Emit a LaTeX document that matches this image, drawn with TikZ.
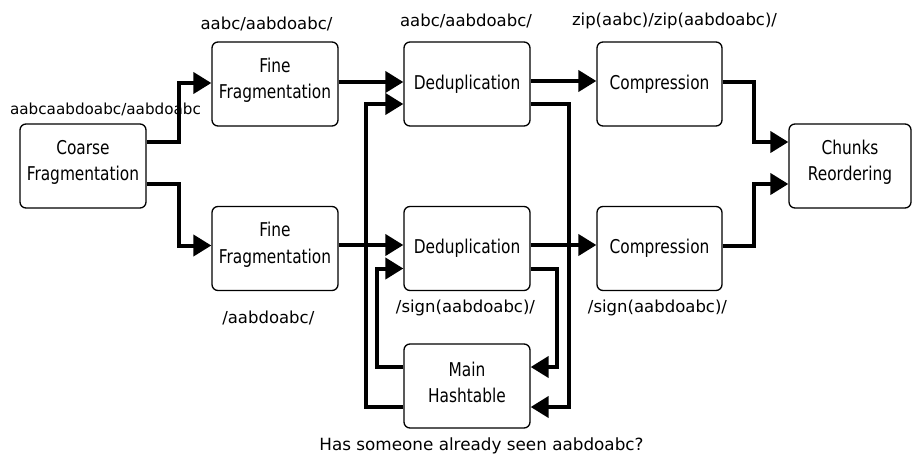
\documentclass[tikz,border=0pt]{standalone}
\usepackage{fontspec}
\setmainfont{DejaVu Sans}
\newfontfamily\boxfont[FakeStretch=0.9]{DejaVu Sans Condensed}
\usetikzlibrary{arrows.meta}
\begin{document}
\begin{tikzpicture}[x=1pt,y=-1pt,
  boxtext/.style={font=\boxfont\fontsize{19}{26.5}\selectfont, align=center, inner sep=0pt},
  stage/.style={draw=black, line width=1.3pt, rounded corners=6pt, fill=white,
    minimum width=126pt, minimum height=84pt, boxtext},
  twoline/.style={stage, label={[boxtext, yshift=3.5pt]center:#1}},
  flow/.style={line width=4pt, -{Triangle[length=18pt,width=21pt]}},
  lbl/.style={font=\fontsize{16.5}{19}\selectfont, inner sep=0pt}]
\useasboundingbox (0,0) rectangle (912,455);

% processing stages
\node[twoline={Coarse\\Fragmentation}] (coarse) at (83,166) {};
\node[twoline={Fine\\Fragmentation}] (fine1) at (275,84) {};
\node[twoline={Fine\\Fragmentation}] (fine2) at (275,248.5) {};
\node[stage] (dedup1) at (467,84) {Deduplication};
\node[stage] (dedup2) at (467,248.5) {Deduplication};
\node[stage, minimum width=125pt] (comp1) at (659.5,84) {Compression};
\node[stage, minimum width=125pt] (comp2) at (659.5,248.5) {Compression};
\node[twoline={Chunks\\Reordering}, minimum width=122pt] (chunks) at (850,166) {};
\node[twoline={Main\\Hashtable}] (hash) at (467,386) {};

% data annotations
\node[lbl, font=\fontsize{15.2}{18}\selectfont] (l1) at (105.5,109) {aabcaabdoabc/aabdoabc};
\node[lbl] (l2) at (266.5,24) {aabc/aabdoabc/};
\node[lbl] (l3) at (466,21) {aabc/aabdoabc/};
\node[lbl] (l4) at (674.5,21) {zip(aabc)/zip(aabdoabc)/};
\node[lbl] (l5) at (268.3,318) {/aabdoabc/};
\node[lbl] (l6) at (465.5,308) {/sign(aabdoabc)/};
\node[lbl] (l7) at (657.5,308) {/sign(aabdoabc)/};
\node[lbl, font=\fontsize{16.8}{19}\selectfont] (l8) at (481.5,446) {Has someone already seen aabdoabc?};

% hashtable lookups and answers
\draw[flow] ([yshift=-21pt]hash.west) -- ++(-37,0) |- ([yshift=-20pt]dedup1.west);
\draw[flow] ([yshift=19pt]hash.west) -- ++(-26,0) |- ([yshift=-20pt]dedup2.west);
\draw[flow] ([yshift=-20pt]dedup1.east) -- ++(38,0) |- ([yshift=-21pt]hash.east);
\draw[flow] ([yshift=-20pt]dedup2.east) -- ++(26,0) |- ([yshift=19pt]hash.east);

% main data flow
\draw[flow] ([yshift=24pt]coarse.east) -- ++(32,0) |- ([yshift=1pt]fine1.west);
\draw[flow] ([yshift=-18pt]coarse.east) -- ++(32,0) |- ([yshift=3pt]fine2.west);
\draw[flow] ([yshift=2pt]fine1.east) -- ([yshift=2pt]dedup1.west);
\draw[flow] ([yshift=3.5pt]fine2.east) -- ([yshift=3.5pt]dedup2.west);
\draw[flow] ([yshift=3pt]dedup1.east) -- ([yshift=3pt]comp1.west);
\draw[flow] ([yshift=3.5pt]dedup2.east) -- ([yshift=3.5pt]comp2.west);
\draw[flow] ([yshift=2pt]comp1.east) -- ++(31,0) |- ([yshift=24pt]chunks.west);
\draw[flow] ([yshift=3pt]comp2.east) -- ++(31,0) |- ([yshift=-18pt]chunks.west);
\end{tikzpicture}
\end{document}
